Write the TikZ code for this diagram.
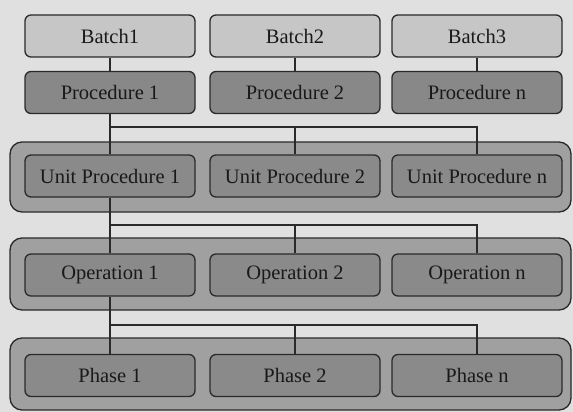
\documentclass[tikz,border=0pt]{standalone}
\usepackage{fontspec}
\setmainfont{Liberation Serif}
\usepackage{tikz}
\usetikzlibrary{positioning,calc}

\definecolor{bgcol}{HTML}{E0E0E0}
\definecolor{batchcol}{HTML}{C6C6C6}
\definecolor{proccol}{HTML}{888888}
\definecolor{layercol}{HTML}{A0A0A0}
\definecolor{itemcol}{HTML}{8A8A8A}
\definecolor{edgecol}{HTML}{2A2A2A}

\tikzset{
    box/.style={draw=edgecol, line width=1.3pt, rounded corners=6pt,
        minimum width=170pt, minimum height=42pt, inner sep=0pt,
        font=\fontsize{20.5}{23}\selectfont, text=black!90},
    batchbox/.style={box, fill=batchcol},
    procbox/.style={box, fill=proccol},
    itembox/.style={box, fill=itemcol},
    layer/.style={draw=edgecol, line width=1.3pt, rounded corners=12pt, fill=layercol},
    link/.style={draw=edgecol, line width=1.1pt}
}

\begin{document}
\begin{tikzpicture}[x=1pt,y=-1pt]
    \useasboundingbox (0,0) rectangle (573,412);
    \fill[bgcol] (0,0) rectangle (573,412);

    % Layers behind the rows
    \draw[layer] (10,142) rectangle (571,212);
    \draw[layer] (10,238) rectangle (571,310);
    \draw[layer] (10,338) rectangle (571,410);

    % Rows of boxes
    \foreach \i/\x/\n in {1/110/1, 2/295/2, 3/477/n} {
        \node[batchbox] (b\i) at (\x,36) {Batch\i};
        \node[procbox] (p\i) at (\x,92.5) {Procedure \n};
        \node[itembox] (u\i) at (\x,176) {Unit Procedure \n};
        \node[itembox] (o\i) at (\x,275) {Operation \n};
        \node[itembox] (f\i) at (\x,375.5) {Phase \n};
        \draw[link] (b\i) -- (p\i);
    }

    % Bus lines
    \coordinate (h1) at (0,127);
    \coordinate (h2) at (0,225);
    \coordinate (h3) at (0,325);

    \draw[link] (p1.south) -- (u1.north);
    \draw[link] (u1.north |- h1) -- (u3.north |- h1) -- (u3.north);
    \draw[link] (u2.north |- h1) -- (u2.north);

    \draw[link] (u1.south) -- (o1.north);
    \draw[link] (o1.north |- h2) -- (o3.north |- h2) -- (o3.north);
    \draw[link] (o2.north |- h2) -- (o2.north);

    \draw[link] (o1.south) -- (f1.north);
    \draw[link] (f1.north |- h3) -- (f3.north |- h3) -- (f3.north);
    \draw[link] (f2.north |- h3) -- (f2.north);
\end{tikzpicture}
\end{document}
